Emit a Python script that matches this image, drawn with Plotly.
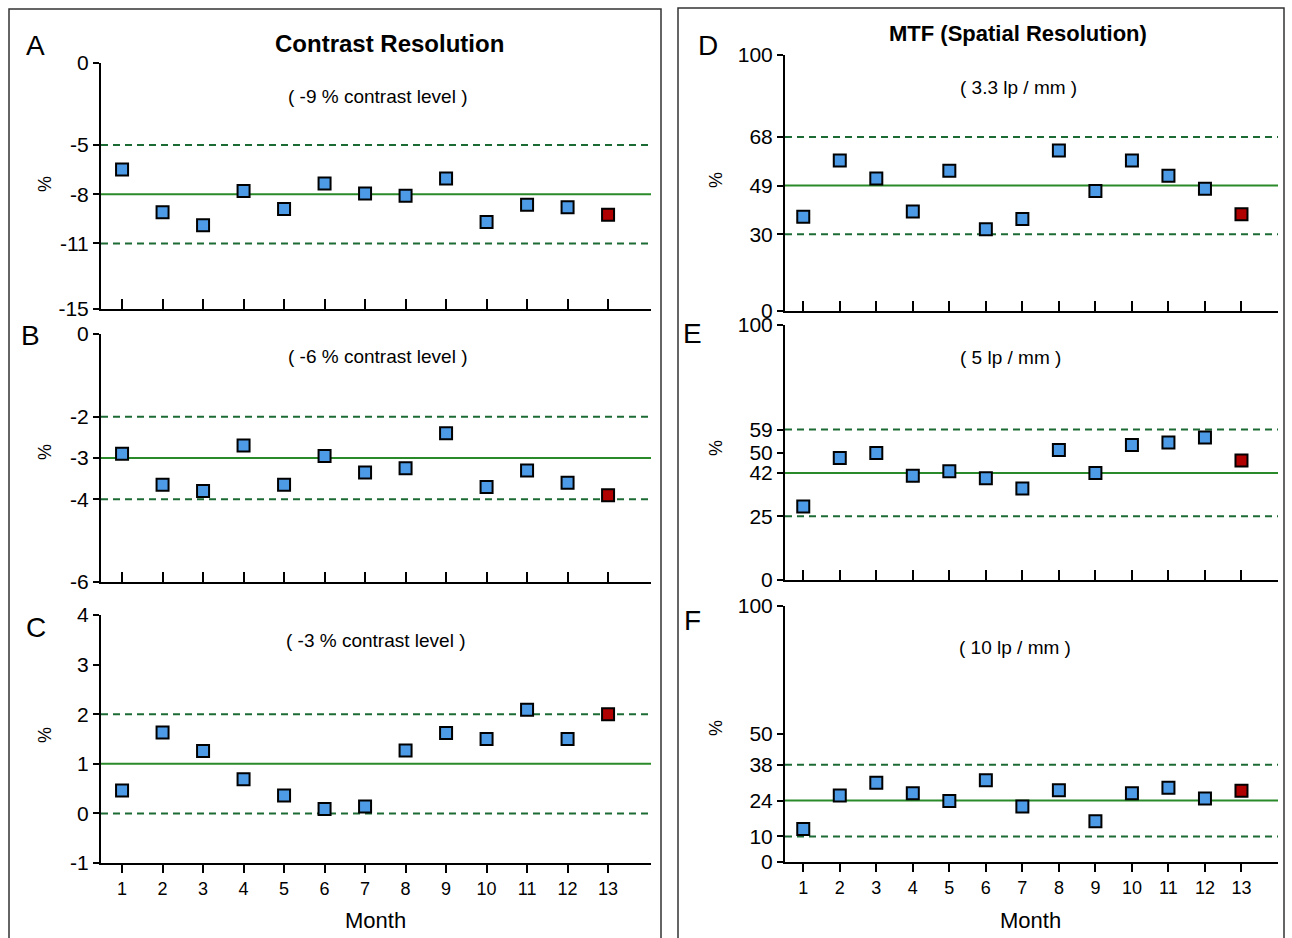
import plotly.graph_objects as go

W, H = 1292, 938

months = list(range(1, 14))

# Panel A: -9 % contrast level
A_vals = [-6.5, -9.1, -9.9, -7.8, -8.9, -7.35, -7.95, -8.1, -7.05, -9.7, -8.65, -8.8, -9.25]
A_ref = [-8, -5, -11]          # mean, upper, lower
A_ticks = [0, -5, -8, -11, -15]

# Panel B: -6 % contrast level
B_vals = [-2.9, -3.65, -3.8, -2.7, -3.65, -2.95, -3.35, -3.25, -2.4, -3.7, -3.3, -3.6, -3.9]
B_ref = [-3, -2, -4]
B_ticks = [0, -2, -3, -4, -6]

# Panel C: -3 % contrast level
C_vals = [0.46, 1.63, 1.26, 0.69, 0.36, 0.09, 0.14, 1.27, 1.62, 1.50, 2.09, 1.50, 2.0]
C_ref = [1, 2, 0]
C_ticks = [4, 3, 2, 1, 0, -1]

# Panel D: 3.3 lp/mm
D_vals = [36.8, 58.8, 51.8, 38.9, 54.8, 31.9, 35.9, 62.7, 46.9, 58.8, 52.8, 47.8, 37.8]
D_ref = [49, 68, 30]
D_ticks = [0, 30, 49, 68, 100]

# Panel E: 5 lp/mm
E_vals = [28.8, 47.8, 49.8, 40.9, 42.6, 39.9, 35.9, 51.0, 42.0, 52.9, 53.9, 55.9, 46.9]
E_ref = [42, 59, 25]
E_ticks = [0, 25, 42, 50, 59, 100]

# Panel F: 10 lp/mm
F_vals = [12.9, 26.0, 31.0, 26.9, 23.8, 31.9, 21.7, 28.0, 15.9, 26.9, 29.0, 24.8, 27.8]
F_ref = [24, 38, 10]
F_ticks = [0, 10, 24, 38, 50, 100]

letters = ["A", "B", "C", "D", "E", "F"]
subtitles = ["( -9 % contrast level )", "( -6 % contrast level )", "( -3 % contrast level )",
             "( 3.3 lp / mm )", "( 5 lp / mm )", "( 10 lp / mm )"]
titles = ["Contrast Resolution", "MTF (Spatial Resolution)"]

FONT = "Liberation Sans Narrow, Arial Narrow, Liberation Sans, Arial, sans-serif"
BLUE = "#4d9be6"
RED = "#b00000"
GREEN = "#2a8a2a"
DGREEN = "#1d6b34"


def px_x(p):
    return p / W


def px_y(p):
    return 1 - p / H


panels = [
    # vals, ref, ticks, range, xdom(px), ydom(px top,bottom), show x labels
    (A_vals, A_ref, A_ticks, [-15, 0], (101, 651), (63, 309), False),
    (B_vals, B_ref, B_ticks, [-6, 0], (101, 651), (334, 582), False),
    (C_vals, C_ref, C_ticks, [-1, 4], (101, 651), (615, 863), True),
    (D_vals, D_ref, D_ticks, [0, 100], (785, 1278), (55, 311), False),
    (E_vals, E_ref, E_ticks, [0, 100], (785, 1278), (325, 580), False),
    (F_vals, F_ref, F_ticks, [0, 100], (785, 1278), (606, 862), True),
]

fig = go.Figure()
layout = dict(
    width=W, height=H, autosize=False,
    margin=dict(l=0, r=0, t=0, b=0, pad=0, autoexpand=False),
    paper_bgcolor="white", plot_bgcolor="white",
    showlegend=False,
    font=dict(family=FONT, color="black"),
    shapes=[], annotations=[],
)

for i, (vals, ref, ticks, yr, xd, yd, showx) in enumerate(panels):
    n = "" if i == 0 else str(i + 1)
    left = i < 3
    xrng = [0.48, 14.06] if left else [0.5, 14.0]
    colors = [BLUE] * (len(vals) - 1) + [RED]
    fig.add_trace(go.Scatter(
        x=months, y=vals, mode="markers", xaxis="x" + n, yaxis="y" + n,
        marker=dict(symbol="square", size=12, color=colors,
                    line=dict(color="black", width=2)),
        cliponaxis=False,
    ))
    layout["xaxis" + n] = dict(
        domain=[px_x(xd[0]), px_x(xd[1])], anchor="y" + n, range=xrng,
        automargin=False,
        showgrid=False, zeroline=False, showline=True, linecolor="black", linewidth=2,
        tickmode="array", tickvals=months, ticktext=[str(m) for m in months],
        showticklabels=showx, ticks="outside" if showx else "inside",
        ticklen=8 if showx else 10, tickwidth=1.5, tickcolor="black",
        tickfont=dict(size=18, family=FONT),
    )
    layout["yaxis" + n] = dict(
        domain=[px_y(yd[1]), px_y(yd[0])], anchor="x" + n, range=yr,
        automargin=False,
        showgrid=False, zeroline=False, showline=True, linecolor="black", linewidth=2,
        tickmode="array", tickvals=ticks, ticktext=[str(t) for t in ticks],
        ticks="outside", ticklen=6, tickwidth=2, tickcolor="black",
        tickfont=dict(size=21, family=FONT),
    )
    # reference lines
    for j, v in enumerate(ref):
        layout["shapes"].append(dict(
            type="line", xref="x" + n + " domain", yref="y" + n,
            x0=0, x1=1, y0=v, y1=v, layer="below",
            line=dict(color=GREEN if j == 0 else DGREEN, width=2,
                      dash="solid" if j == 0 else "7px,5px"),
        ))
    # subtitle
    sub_y = [96, 356, 640, 87, 357, 647][i]
    layout["annotations"].append(dict(
        text=subtitles[i], xref="paper", yref="paper",
        x=px_x([378, 378, 376, 1018, 1010, 1015][i]),
        y=px_y(sub_y), showarrow=False, xanchor="center", yanchor="middle",
        font=dict(size=19, family=FONT),
    ))
    # letter
    lx, ly = [(35, 45), (30, 335), (36, 627), (708, 45), (692, 333), (692, 620)][i]
    layout["annotations"].append(dict(
        text=letters[i], xref="paper", yref="paper", x=px_x(lx), y=px_y(ly),
        showarrow=False, xanchor="center", yanchor="middle",
        font=dict(size=28, family="Liberation Sans, Arial, sans-serif"),
    ))
    # % label
    layout["annotations"].append(dict(
        text="%", xref="paper", yref="paper", x=px_x(45 if left else 716),
        y=px_y([184, 452, 735, 180, 448, 728][i]), showarrow=False, textangle=-90,
        xanchor="center", yanchor="middle", font=dict(size=18, family=FONT),
    ))

# Main titles
layout["annotations"].append(dict(text="<b>" + titles[0] + "</b>", xref="paper", yref="paper",
                                  x=px_x(389), y=px_y(44), showarrow=False,
                                  xanchor="center", yanchor="middle",
                                  font=dict(size=24, family=FONT)))
layout["annotations"].append(dict(text="<b>" + titles[1] + "</b>", xref="paper", yref="paper",
                                  x=px_x(1018), y=px_y(33), showarrow=False,
                                  xanchor="center", yanchor="middle",
                                  font=dict(size=22, family=FONT)))
# Month labels
for mx in (375, 1030):
    layout["annotations"].append(dict(text="Month", xref="paper", yref="paper",
                                      x=px_x(mx), y=px_y(920), showarrow=False,
                                      xanchor="center", yanchor="middle",
                                      font=dict(size=22, family=FONT)))

# Panel frames
layout["shapes"].append(dict(type="rect", xref="paper", yref="paper",
                             x0=px_x(9), x1=px_x(661), y0=-0.02, y1=px_y(9),
                             line=dict(color="#333333", width=1.5)))
layout["shapes"].append(dict(type="rect", xref="paper", yref="paper",
                             x0=px_x(678), x1=px_x(1284), y0=-0.02, y1=px_y(8),
                             line=dict(color="#333333", width=1.5)))

fig.update_layout(**layout)
fig.write_html("out.html", config={"displayModeBar": False},
               post_script="document.body.style.margin='0';document.body.style.overflow='hidden';")
